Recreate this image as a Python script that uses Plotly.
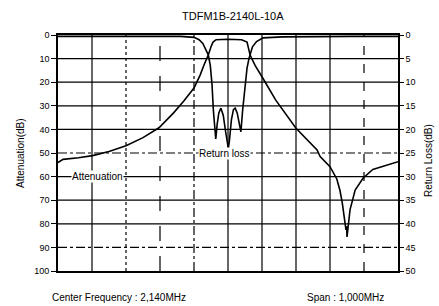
import plotly.graph_objects as go

# ---- data ----
title_text = "TDFM1B-2140L-10A"
center_text = "Center Frequency : 2,140MHz"
span_text = "Span : 1,000MHz"

freq_att = [1640, 1655, 1700, 1742, 1790, 1840, 1890, 1937, 1980, 2010, 2040, 2058, 2070,
            2082, 2090, 2096, 2105, 2140, 2180, 2196, 2205, 2220, 2240, 2280, 2340, 2380,
            2402, 2411, 2440, 2460, 2469, 2476, 2481, 2484, 2487, 2489, 2490, 2492, 2494,
            2499, 2514, 2537, 2566, 2608, 2640]
att = [54, 52.7, 52, 51.1, 49.4, 46.9, 43.5, 39.3, 33, 28, 22.5, 17, 12.5,
       8.5, 5, 3, 2, 1.8, 2, 3, 8.5, 13, 17.7, 27.5, 39.5, 45.5,
       48.7, 51.5, 55.8, 61, 65.7, 71, 77, 79, 82.6, 81, 85.6, 83, 80,
       74, 65.7, 60.7, 57, 55, 53.7]

freq_rl = [1640, 1800, 2000, 2040, 2055, 2066, 2074, 2082, 2088, 2093, 2097, 2101, 2104,
           2108, 2113, 2119, 2126, 2133, 2138, 2141, 2144, 2150, 2156, 2161, 2167, 2173,
           2178, 2183, 2190, 2196, 2202, 2212, 2224, 2243, 2300, 2400, 2500, 2640]
rl = [0.3, 0.3, 0.3, 0.5, 1, 1.8, 3, 4.2, 6.5, 10.5, 16, 20.5, 22,
      19, 16.5, 15.5, 17, 20.5, 23, 24, 22.5, 18, 15.8, 15.5, 16.5, 18.5,
      20.5, 16, 10.6, 7, 4.9, 2.5, 1.4, 0.6, 0.4, 0.3, 0.3, 0.3]

x_range = [1640, 2640]
x_grid = [1740, 1840, 1940, 2040, 2140, 2240, 2340, 2440, 2540]
x_grid_dash = ["solid", "dot", "longdash", "dashdot", "solid", "solid", "solid", "solid", "dash"]
att_ticks = [0, 10, 20, 30, 40, 50, 60, 70, 80, 90, 100]
att_grid_dash = ["solid", "solid", "solid", "solid", "dashdot", "solid", "solid", "solid", "dashdot"]
rl_ticks = [0, 5, 10, 15, 20, 25, 30, 35, 40, 45, 50]

FONT = "Liberation Sans, Arial, sans-serif"

fig = go.Figure()

# gridlines
shapes = []
for xv, d in zip(x_grid, x_grid_dash):
    shapes.append(dict(type="line", xref="x", yref="paper", x0=xv, x1=xv, y0=0, y1=1,
                       line=dict(color="black", width=1.2, dash=d), layer="below"))
for yv, d in zip(att_ticks[1:-1], att_grid_dash):
    shapes.append(dict(type="line", xref="paper", yref="y", x0=0, x1=1, y0=yv, y1=yv,
                       line=dict(color="black", width=1.2, dash=d), layer="below"))

fig.add_trace(go.Scatter(x=freq_att, y=att, mode="lines", name="Attenuation",
                         line=dict(color="black", width=1.6), yaxis="y"))
fig.add_trace(go.Scatter(x=freq_rl, y=rl, mode="lines", name="Return loss",
                         line=dict(color="black", width=1.6), yaxis="y2"))

fig.update_layout(
    width=439, height=306,
    margin=dict(l=58, r=41, t=35, b=35),
    paper_bgcolor="white", plot_bgcolor="white",
    showlegend=False,
    font=dict(family=FONT, color="black", size=9),
    shapes=shapes,
    xaxis=dict(range=x_range, showgrid=False, showticklabels=False, zeroline=False,
               showline=True, mirror=True, linecolor="black", linewidth=1.6, ticks=""),
    yaxis=dict(range=[100, 0], tickvals=att_ticks, showgrid=False, zeroline=False,
               showline=True, mirror=False, linecolor="black", linewidth=1.6,
               ticks="outside", ticklen=5, tickcolor="black", tickwidth=1,
               tickfont=dict(size=9, family=FONT)),
    yaxis2=dict(range=[50, 0], tickvals=rl_ticks, overlaying="y", side="right",
                showgrid=False, zeroline=False, showline=True, linecolor="black",
                linewidth=1.6, ticks="outside", ticklen=4, tickcolor="black", tickwidth=1,
                tickfont=dict(size=9, family=FONT)),
)

ann = [
    dict(text=title_text, x=0.515, y=1.08, xref="paper", yref="paper", showarrow=False,
         font=dict(size=11, family=FONT), xanchor="center", yanchor="middle"),
    dict(text="Attenuation(dB)", x=-0.112, y=0.5, xref="paper", yref="paper", showarrow=False,
         textangle=-90, font=dict(size=10, family=FONT), xanchor="center", yanchor="middle"),
    dict(text="Return Loss(dB)", x=1.088, y=0.47, xref="paper", yref="paper", showarrow=False,
         textangle=-90, font=dict(size=10, family=FONT), xanchor="center", yanchor="middle"),
    dict(text=center_text, x=-0.0235, y=-0.114, xref="paper", yref="paper", showarrow=False,
         font=dict(size=10, family=FONT), xanchor="left", yanchor="middle"),
    dict(text=span_text, x=0.7265, y=-0.114, xref="paper", yref="paper", showarrow=False,
         font=dict(size=10, family=FONT), xanchor="left", yanchor="middle"),
    dict(text="Attenuation", x=1756, y=60, xref="x", yref="y", showarrow=False,
         bgcolor="white", font=dict(size=10, family=FONT), xanchor="center", yanchor="middle",
         borderpad=0),
    dict(text="Return loss", x=2130, y=50, xref="x", yref="y", showarrow=False,
         bgcolor="white", font=dict(size=10, family=FONT), xanchor="center", yanchor="middle",
         borderpad=0),
]
fig.update_layout(annotations=ann)

fig.write_html("out.html", config={"displayModeBar": False},
               post_script="document.body.style.margin='0';")
